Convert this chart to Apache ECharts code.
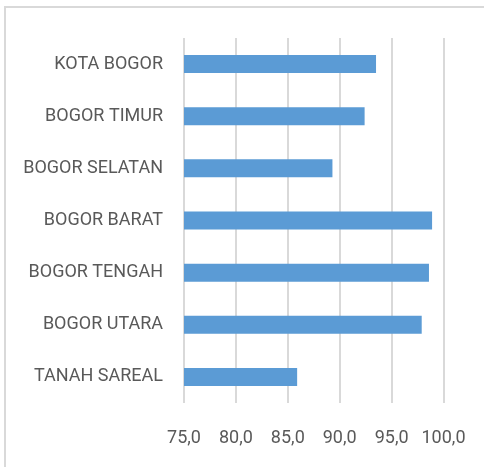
<!DOCTYPE html>
<html>
<head>
<meta charset="utf-8">
<script src="https://cdn.jsdelivr.net/npm/echarts@6/dist/echarts.min.js"></script>
<style>
  html, body { margin: 0; padding: 0; background: #fff; overflow: hidden; }
  #frame { position: absolute; left: 4px; top: 6px; width: 500px; height: 480px; border: 2px solid #d9d9d9; box-sizing: border-box; }
  #chart { position: absolute; left: 0; top: 0; width: 484px; height: 467px; }
</style>
</head>
<body>
<div id="frame"></div>
<div id="chart"></div>
<script>
const kecamatan = ['TANAH SAREAL', 'BOGOR UTARA', 'BOGOR TENGAH', 'BOGOR BARAT', 'BOGOR SELATAN', 'BOGOR TIMUR', 'KOTA BOGOR'];
const nilai = [85.9, 97.9, 98.6, 98.9, 89.3, 92.4, 93.5];
const axisMin = 75, axisMax = 100, axisStep = 5;

const labelFont = 'Roboto, sans-serif';

const chart = echarts.init(document.getElementById('chart'));

chart.setOption({
    backgroundColor: 'transparent',
    animation: false,
    grid: { left: 184, right: 40.5, top: 38, bottom: 64 },
    xAxis: {
        type: 'value',
        min: axisMin,
        max: axisMax,
        interval: axisStep,
        axisLine: { show: false },
        axisTick: { show: false },
        splitLine: { lineStyle: { color: '#d9d9d9', width: 2 } },
        axisLabel: {
            color: '#595959',
            fontSize: 18,
            fontFamily: labelFont,
            margin: 26,
            formatter: v => v.toFixed(1).replace('.', ',')
        }
    },
    yAxis: {
        type: 'category',
        data: kecamatan,
        axisLine: { show: false },
        axisTick: { show: false },
        axisLabel: {
            color: '#595959',
            fontSize: 18,
            fontFamily: labelFont,
            margin: 21
        }
    },
    series: [{
        type: 'bar',
        data: nilai,
        barWidth: 18,
        itemStyle: { color: '#5b9bd5' }
    }]
});
</script>
</body>
</html>
